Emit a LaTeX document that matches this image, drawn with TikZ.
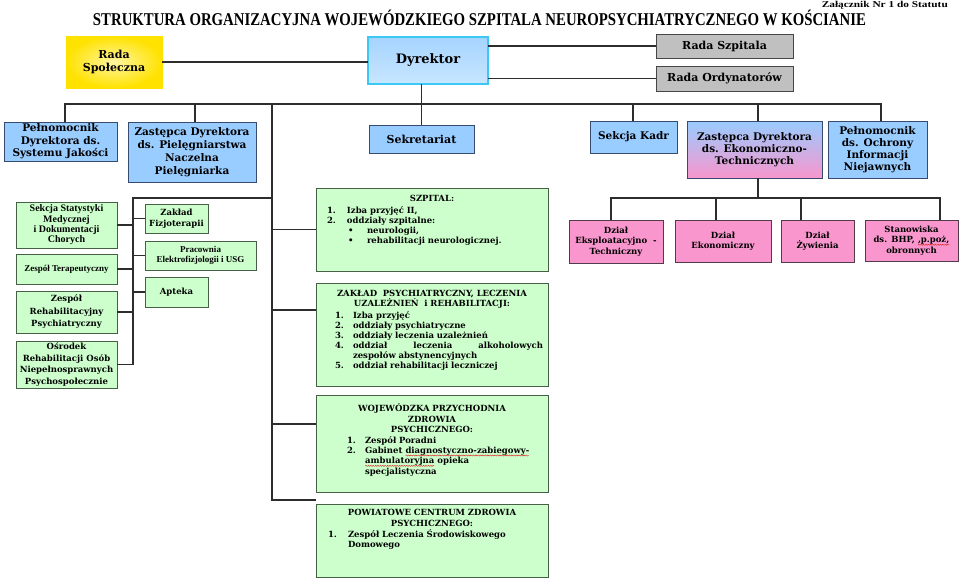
\documentclass[tikz,border=0pt]{standalone}
\usepackage{fontspec}
\usepackage{graphicx}
\setmainfont{DejaVu Serif}
\newfontfamily\libs{Liberation Serif}
\usetikzlibrary{calc,decorations.pathmorphing}
\definecolor{bluef}{RGB}{153,204,255}
\definecolor{blued}{RGB}{55,75,110}
\definecolor{greenf}{RGB}{204,255,204}
\definecolor{greend}{RGB}{70,95,70}
\definecolor{pinkf}{RGB}{248,150,205}
\definecolor{pinkd}{RGB}{80,60,75}
\definecolor{grayf}{RGB}{192,192,192}
\definecolor{grayd}{RGB}{70,70,70}
\definecolor{linec}{RGB}{45,45,45}
\definecolor{yelin}{RGB}{255,246,160}
\definecolor{yelout}{RGB}{255,226,0}
\definecolor{cyand}{RGB}{60,200,245}
\definecolor{dyrtop}{RGB}{165,212,255}
\definecolor{dyrbot}{RGB}{200,230,255}
\definecolor{wavered}{RGB}{225,40,40}
\newcommand\redwave[1]{\tikz[baseline=(wv.base)]{\node[draw=none, fill=none, text width={}, minimum width=0pt, minimum height=0pt, inner sep=0pt, outer sep=0pt, anchor=base west] (wv) at (0pt,0pt) {#1};\draw[wavered,line width=0.45pt,decorate,decoration={snake,amplitude=0.55pt,segment length=2.4pt}] ([yshift=-2pt]wv.base west) -- ([yshift=-2pt]wv.base east);}}
\newcommand\fsz[2]{\bfseries\fontsize{#1}{#2}\selectfont}
\tikzset{
  conn/.style={draw=linec, line width=1.1pt},
  base/.style={draw, line width=1pt, anchor=north west, inner sep=1pt, outer sep=0pt, align=center, font=\fsz{10.5}{12.5}},
  bluebox/.style={base, fill=bluef, draw=blued},
  greenbox/.style={base, fill=greenf, draw=greend},
  pinkbox/.style={base, fill=pinkf, draw=pinkd},
  graybox/.style={base, fill=grayf, draw=grayd},
  listtext/.style={anchor=north west, inner sep=0pt, outer sep=0pt, align=left, text width=224pt, font=\fsz{8.5}{10}},
}
\begin{document}
\begin{tikzpicture}[x=1pt,y=-1pt]
\useasboundingbox (0,0) rectangle (960,582);
\fill[white] (0,0) rectangle (960,582);

% titles
\node[anchor=center, inner sep=0pt] (title) at (479.5,17.5)
  {\resizebox{773pt}{\height}{\libs\bfseries\fontsize{18}{18}\selectfont STRUKTURA ORGANIZACYJNA WOJEWÓDZKIEGO SZPITALA NEUROPSYCHIATRYCZNEGO W KOŚCIANIE}};
\node[anchor=east, inner sep=0pt] (zal) at (948,5.5)
  {\resizebox{126pt}{\height}{\libs\bfseries\fontsize{9}{9}\selectfont Załącznik Nr 1 do Statutu}};

% top level
\node[base, draw=yelout, shading=radial, inner color=yelin, outer color=yelout, minimum width=96, minimum height=52, font=\fsz{11}{13.5}] (rs) at (66,36) {Rada\\Społeczna};
\node[base, draw=cyand, line width=1.4pt, top color=dyrtop, bottom color=dyrbot, minimum width=120, minimum height=47, font=\fsz{13}{15}] (dyr) at (368,37) {Dyrektor};
\node[graybox, minimum width=137, minimum height=24, font=\fsz{11}{13}] (rsz) at (656,34) {Rada Szpitala};
\node[graybox, minimum width=137, minimum height=25, font=\fsz{11}{13}] (rod) at (656,66) {Rada Ordynatorów};

% second row
\node[bluebox, minimum width=113, minimum height=39] (pj) at (4,122) {Pełnomocnik\\Dyrektora ds.\\Systemu Jakości};
\node[bluebox, minimum width=128, minimum height=60, font=\fsz{10.5}{13}] (zp) at (128,122) {Zastępca Dyrektora\\ds. Pielęgniarstwa\\Naczelna\\Pielęgniarka};
\node[bluebox, minimum width=105, minimum height=28, font=\fsz{11}{13}] (sek) at (369,125) {Sekretariat};
\node[bluebox, minimum width=87, minimum height=32] (kadr) at (590,121) {Sekcja Kadr};
\node[base, draw=blued, top color=bluef, bottom color=pinkf, minimum width=135, minimum height=57, font=\fsz{10.5}{12}] (zde) at (687,121) {Zastępca Dyrektora\\ds. Ekonomiczno-\\Technicznych};
\node[bluebox, minimum width=99, minimum height=57, font=\fsz{10.5}{12}] (poin) at (828,121) {Pełnomocnik\\ds. Ochrony\\Informacji\\Niejawnych};

% economic departments
\node[pinkbox, minimum width=94, minimum height=43, font=\fsz{8.5}{10.5}] (dek) at (569,220) {Dział\\Eksploatacyjno \ -\\Techniczny};
\node[pinkbox, minimum width=96, minimum height=42, font=\fsz{8.5}{10.5}] (dekon) at (675,220) {Dział\\Ekonomiczny};
\node[pinkbox, minimum width=73, minimum height=42, font=\fsz{8.5}{10.5}] (dzyw) at (781,220) {Dział\\Żywienia};
\node[pinkbox, minimum width=93, minimum height=41, text width=89pt, font=\fsz{8.5}{10.5}] (bhp) at (865,220) {Stanowiska\par ds. BHP, \redwave{,p.poż,}\par obronnych};

% left column
\node[greenbox, minimum width=101, minimum height=46, font={\libs\fsz{10}{10.4}}] (ss) at (16,202) {Sekcja Statystyki\\Medycznej\\i Dokumentacji\\Chorych};
\node[greenbox, minimum width=101, minimum height=30, font={\libs\fsz{9}{10.5}}] (zt) at (16,254) {Zespół Terapeutyczny};
\node[greenbox, minimum width=101, minimum height=42, font=\fsz{8.5}{12.5}] (zr) at (16,291) {Zespół\\Rehabilitacyjny\\Psychiatryczny};
\node[greenbox, minimum width=101, minimum height=47, font=\fsz{8.5}{11.5}] (osr) at (16,341) {Ośrodek\\Rehabilitacji Osób\\Niepełnosprawnych\\Psychospołecznie};
\node[greenbox, minimum width=63, minimum height=29, font=\fsz{8.5}{11}] (zf) at (145,204) {Zakład\\Fizjoterapii};
\node[greenbox, minimum width=111, minimum height=29, font={\libs\fsz{9}{10}}] (pe) at (145,241) {Pracownia\\Elektrofizjologii i USG};
\node[greenbox, minimum width=63, minimum height=30, font=\fsz{8.5}{11}] (ap) at (145,277) {Apteka};

% middle list boxes
\node[greenbox, minimum width=232, minimum height=83] (szp) at (316,188) {};
\node[listtext] (szpt) at (320,195.5) {%
{\centering SZPITAL:\par}\vspace{2pt}
\hspace*{7pt}\makebox[20pt][l]{1.}Izba przyjęć II,\par
\hspace*{7pt}\makebox[20pt][l]{2.}oddziały szpitalne:\par
\hspace*{28pt}\makebox[19pt][l]{\textbullet}neurologii,\par
\hspace*{28pt}\makebox[19pt][l]{\textbullet}rehabilitacji neurologicznej.};

\node[greenbox, minimum width=232, minimum height=103] (zps) at (316,283) {};
\node[listtext] (zpst) at (320,290.5) {%
{\centering ZAKŁAD \ PSYCHIATRYCZNY, LECZENIA\par UZALEŻNIEŃ \ i REHABILITACJI:\par}\vspace{2pt}
\hspace*{15pt}\makebox[18pt][l]{1.}Izba przyjęć\par
\hspace*{15pt}\makebox[18pt][l]{2.}oddziały psychiatryczne\par
\hspace*{15pt}\makebox[18pt][l]{3.}oddziały leczenia uzależnień\par
\hspace*{15pt}\makebox[18pt][l]{4.}\makebox[190pt][l]{oddział\hfill leczenia\hfill alkoholowych}\par
\hspace*{33pt}zespołów abstynencyjnych\par
\hspace*{15pt}\makebox[18pt][l]{5.}oddział rehabilitacji leczniczej};

\node[greenbox, minimum width=232, minimum height=97] (wpz) at (316,395) {};
\node[listtext, font=\fsz{8.5}{10.4}] (wpzt) at (320,404) {%
{\centering WOJEWÓDZKA PRZYCHODNIA\par ZDROWIA\par PSYCHICZNEGO:\par}
\hspace*{27pt}\makebox[18pt][l]{1.}Zespół Poradni\par
\hspace*{27pt}\makebox[18pt][l]{2.}Gabinet \redwave{diagnostyczno-zabiegowy-}\par
\hspace*{45pt}\redwave{ambulatoryjna} opieka\par
\hspace*{45pt}specjalistyczna};

\node[greenbox, minimum width=232, minimum height=73] (pcz) at (316,504) {};
\node[listtext, font=\fsz{8.5}{10.6}] (pczt) at (320,509.5) {%
{\centering POWIATOWE CENTRUM ZDROWIA\par PSYCHICZNEGO:\par}
\hspace*{8pt}\makebox[20pt][l]{1.}Zespół Leczenia Środowiskowego\par
\hspace*{28pt}Domowego};

% connector coordinates
\coordinate (busL) at (65,104);
\coordinate (busR) at (881,104);
\coordinate (dzp) at (195,104);
\coordinate (mv) at (272,104);
\coordinate (dkadr) at (633,104);
\coordinate (dzde) at (758,104);
\coordinate (mvend) at (272,500);
\coordinate (c2) at (272,310);
\coordinate (c3) at (272,424);
\coordinate (lj) at (272,198);
\coordinate (lv) at (133,198);
\coordinate (e0) at (758,198);
\coordinate (e1) at (611,198);
\coordinate (e2) at (716,198);
\coordinate (e3) at (801,198);
\coordinate (e4) at (940,198);

% top connectors
\draw[conn] (rs.east) -- (rs.east -| dyr.west);
\draw[conn] (rsz.west -| dyr.east) -- (rsz.west);
\draw[conn] (rod.west -| dyr.east) -- (rod.west);
\draw[conn] (sek.north) -- (sek.north |- dyr.south);

% bus and drops
\draw[conn] (busL |- pj.north) -- (busL) -- (busR) -- (busR |- poin.north);
\draw[conn] (dzp) -- (dzp |- zp.north);
\draw[conn] (dkadr) -- (dkadr |- kadr.north);
\draw[conn] (dzde) -- (dzde |- zde.north);

% main vertical
\draw[conn] (mv) -- (mvend) -- (mvend -| pcz.west);
\draw[conn] (szp.west -| mv) -- (szp.west);
\draw[conn] (c2) -- (c2 -| zps.west);
\draw[conn] (c3) -- (c3 -| wpz.west);

% left group
\draw[conn] (lj) -- (lv) -- (lv |- osr.east) -- (osr.east);
\draw[conn] (ss.east) -- (ss.east -| lv);
\draw[conn] (zt.east) -- (zt.east -| lv);
\draw[conn] (zr.east) -- (zr.east -| lv);
\draw[conn] (zf.west -| lv) -- (zf.west);
\draw[conn] (pe.west -| lv) -- (pe.west);
\draw[conn] (ap.west -| lv) -- (ap.west);

% economic group
\draw[conn] (e0) -- (e0 |- zde.south);
\draw[conn] (e1 |- dek.north) -- (e1) -- (e4) -- (e4 |- bhp.north);
\draw[conn] (e2) -- (e2 |- dekon.north);
\draw[conn] (e3) -- (e3 |- dzyw.north);
\end{tikzpicture}
\end{document}
